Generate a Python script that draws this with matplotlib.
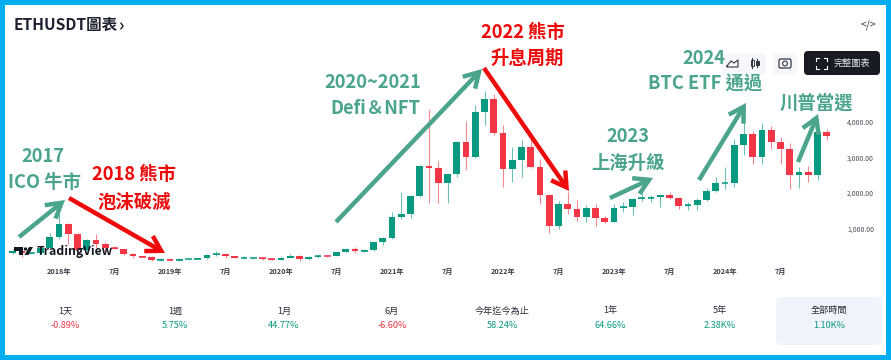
#!/usr/bin/env python3
import matplotlib
matplotlib.use('Agg')
import matplotlib.pyplot as plt
from matplotlib.patches import FancyArrowPatch, FancyBboxPatch, Circle, Polygon, Rectangle

plt.rcParams['font.family'] = ['Noto Sans CJK TC', 'DejaVu Sans']

# monthly candles, Aug 2017 .. Dec 2024
opens = [301, 383, 304, 305, 446, 756, 1118, 855, 396, 670, 578, 455, 433, 283, 233, 197, 113, 133,
         106, 135, 141, 161, 268, 290, 218, 172, 180, 182, 151, 129, 179, 217, 133, 206, 231, 225,
         346, 434, 360, 386, 616, 737, 1312, 1419, 1919, 2772, 2706, 2275, 2530, 3430, 3000, 4288,
         4631, 3676, 2686, 2920, 3281, 2726, 1942, 1067, 1678, 1553, 1328, 1572, 1295, 1196, 1586,
         1605, 1822, 1870, 1874, 1934, 1856, 1645, 1670, 1815, 2052, 2282, 2283, 3340, 3647, 3015,
         3760, 3438, 3232, 2513, 2603, 2518, 3700]
highs = [393, 394, 345, 517, 881, 1425, 1161, 878, 708, 840, 620, 515, 435, 301, 237, 233, 166, 160,
         165, 150, 185, 288, 362, 320, 239, 223, 197, 195, 152, 189, 288, 250, 227, 247, 253, 349,
         448, 489, 421, 637, 752, 1476, 2042, 1946, 2799, 4372, 2891, 2551, 3474, 4027, 4460, 4868,
         4778, 3900, 3282, 3480, 3580, 2965, 1972, 1785, 2030, 1790, 1665, 1680, 1352, 1680, 1743,
         1857, 2141, 1930, 1950, 2030, 1880, 1750, 1860, 2138, 2445, 2717, 3522, 4093, 3730, 3977,
         3887, 3562, 3400, 2728, 2770, 3740, 3800]
lows = [278, 197, 275, 285, 417, 717, 560, 366, 360, 462, 352, 420, 250, 167, 190, 101, 81, 100,
        102, 125, 136, 141, 230, 188, 164, 153, 153, 131, 116, 126, 209, 86, 125, 177, 216, 220,
        334, 309, 334, 372, 532, 714, 1274, 1291, 1891, 1730, 1707, 1706, 2441, 2651, 2971, 3900,
        3643, 2159, 2300, 2445, 2710, 1704, 880, 1000, 1423, 1220, 1190, 1073, 1150, 1190, 1460,
        1368, 1785, 1740, 1620, 1820, 1550, 1531, 1520, 1778, 2040, 2100, 2170, 3056, 2810, 2817,
        3240, 2810, 2110, 2150, 2300, 2357, 3500]
closes = [383, 304, 305, 446, 756, 1118, 855, 396, 670, 578, 455, 433, 283, 233, 197, 113, 133, 106,
          135, 141, 161, 268, 290, 218, 172, 180, 182, 151, 129, 179, 217, 133, 206, 231, 225, 346,
          434, 360, 386, 616, 737, 1312, 1419, 1919, 2772, 2706, 2275, 2530, 3430, 3000, 4288, 4631,
          3676, 2686, 2920, 3281, 2726, 1942, 1067, 1678, 1553, 1328, 1572, 1295, 1196, 1586, 1605,
          1822, 1870, 1874, 1934, 1856, 1645, 1670, 1815, 2052, 2282, 2283, 3340, 3647, 3015, 3760,
          3438, 3232, 2513, 2603, 2518, 3700, 3610]

x_tick_pos = [5, 11, 17, 23, 29, 35, 41, 47, 53, 59, 65, 71, 77, 83]
x_tick_labels = ['2018年', '7月', '2019年', '7月', '2020年', '7月', '2021年', '7月',
                 '2022年', '7月', '2023年', '7月', '2024年', '7月']
y_ticks = [1000, 2000, 3000, 4000]
y_tick_labels = ['1,000.00', '2,000.00', '3,000.00', '4,000.00']

periods = ['1天', '1週', '1月', '6月', '今年迄今為止', '1年', '5年', '全部時間']
returns = ['-0.89%', '5.75%', '44.77%', '-6.60%', '58.24%', '64.66%', '2.38K%', '1.10K%']
period_x = [65, 175, 284, 392, 502, 610, 720, 829]

GREEN = '#089981'
RED = '#F23645'
TEAL = '#4BA58D'
ARROW_RED = '#EE0A0A'
BLUE = '#00AEEF'
W, H = 891, 360

fig = plt.figure(figsize=(W / 100, H / 100), dpi=100, facecolor='white')

# chart axes, placed so the months and prices land on the reference pixels
left, right, top, bottom = 6, 843, 40, 264.2
ax = fig.add_axes([left / W, 1 - bottom / H, (right - left) / W, (bottom - top) / H])
ax.set_xlim((left - 12.75) / 9.25, (right - 12.75) / 9.25)
ax.set_ylim(0, (bottom - top) * 28.09)
for s in ax.spines.values():
    s.set_visible(False)
ax.patch.set_alpha(0)

xs = list(range(len(opens)))
colors = [GREEN if c >= o else RED for o, c in zip(opens, closes)]
ax.vlines(xs, lows, highs, colors=colors, lw=0.8, alpha=0.6, zorder=2)
ax.bar(xs, [abs(c - o) for o, c in zip(opens, closes)], bottom=[min(o, c) for o, c in zip(opens, closes)],
       width=0.72, color=colors, linewidth=0, zorder=3)
# flat months still show as a thin dash
mids = [(o + c) / 2 for o, c in zip(opens, closes)]
ax.hlines(mids, [x - 0.36 for x in xs], [x + 0.36 for x in xs], colors=colors, lw=1.1, zorder=3)

ax.set_xticks(x_tick_pos)
ax.set_xticklabels(x_tick_labels, fontsize=5.2, fontweight='bold', color='#3A3E4A')
ax.yaxis.tick_right()
ax.set_yticks(y_ticks)
ax.set_yticklabels(y_tick_labels, fontsize=5, color='#4A4E5A', ha='left')
ax.tick_params(axis='both', length=0)
ax.tick_params(axis='x', pad=3)
ax.tick_params(axis='y', pad=3)

# overlay in pixel coordinates for the page furniture and hand-drawn notes
ov = fig.add_axes([0, 0, 1, 1])
ov.set_xlim(0, W)
ov.set_ylim(H, 0)
ov.axis('off')
ov.patch.set_alpha(0)

ov.text(14, 25, 'ETHUSDT圖表', fontsize=11.2, fontweight='bold', color='#1E2230', va='center')
ov.text(119, 26, '›', fontsize=12, fontweight='bold', color='#1E2230', va='center')
ov.text(868, 25, '</>', fontsize=7.5, color='#333744', ha='center', va='center')

# toolbar
ov.add_patch(FancyBboxPatch((722, 53), 44, 22, boxstyle='round,pad=0,rounding_size=3', fc='#F6F7FB', ec='none'))
ov.add_patch(FancyBboxPatch((773, 53), 24, 22, boxstyle='round,pad=0,rounding_size=3', fc='#F6F7FB', ec='none'))
ov.plot([727, 731, 734, 738, 738, 727, 727], [66, 61, 63, 60, 67, 67, 66], color='#333744', lw=0.8)
ov.plot([752, 752], [58, 68], color='#333744', lw=0.8)
ov.plot([757, 757], [59, 67], color='#333744', lw=0.8)
ov.add_patch(Rectangle((751, 60), 2.5, 6, fc='white', ec='#333744', lw=0.7))
ov.add_patch(Rectangle((756, 61), 2.5, 4, fc='#333744', ec='#333744', lw=0.7))
ov.add_patch(FancyBboxPatch((779, 59), 12, 9, boxstyle='round,pad=0,rounding_size=1.5', fc='none', ec='#333744', lw=0.9))
ov.add_patch(Circle((785, 63.5), 2.4, fc='none', ec='#333744', lw=0.8))
ov.add_patch(FancyBboxPatch((804, 51), 76, 24, boxstyle='round,pad=0,rounding_size=4', fc='#181A24', ec='none'))
for cx, cy, dx, dy in [(816, 58, 1, 1), (827, 58, -1, 1), (816, 69, 1, -1), (827, 69, -1, -1)]:
    ov.plot([cx, cx, cx + 3 * dx], [cy + 3 * dy, cy, cy], color='white', lw=0.8)
ov.text(852, 63, '完整圖表', fontsize=6.6, color='#E8E9EE', ha='center', va='center')

# TradingView mark
ov.add_patch(Polygon([(14, 247), (23, 247), (23, 255), (19, 255), (19, 250.5), (14, 250.5)], fc='#131722', ec='none'))
ov.add_patch(Circle((25.5, 249), 1.7, fc='#131722', ec='none'))
ov.add_patch(Polygon([(28.5, 255), (24.5, 255), (29, 247), (33, 247)], fc='#131722', ec='none'))
ov.text(37, 251, 'TradingView', fontsize=8.8, fontweight='bold', color='#131722', va='center')


def arrow(x0, y0, x1, y1, color):
    ov.add_patch(FancyArrowPatch((x0, y0), (x1, y1), arrowstyle='->,head_length=1.05,head_width=0.62',
                                 mutation_scale=10, lw=3.2, color=color, shrinkA=0, shrinkB=0,
                                 capstyle='butt', joinstyle='miter', zorder=6))


arrow(19, 237, 65, 200, TEAL)
arrow(69, 198, 165, 253, ARROW_RED)
arrow(336, 222, 482, 69, TEAL)
arrow(484, 68, 569, 191, ARROW_RED)
arrow(610, 198, 653, 178, TEAL)
arrow(699, 180, 746, 103, TEAL)
arrow(798, 162, 818, 114, TEAL)


def note(x, y, s, color):
    ov.text(x, y + 1, s, fontsize=13.2, fontweight='bold', color=color, ha='center', va='center', zorder=7)


note(43, 155, '2017', TEAL)
note(45, 181, 'ICO 牛市', TEAL)
note(134, 174, '2018 熊市', ARROW_RED)
note(134, 201, '泡沫破滅', ARROW_RED)
note(523, 31, '2022 熊市', ARROW_RED)
note(527, 57, '升息周期', ARROW_RED)
note(373, 81, '2020~2021', TEAL)
note(375, 107, 'Defi＆NFT', TEAL)
note(628, 135, '2023', TEAL)
note(628, 162, '上海升級', TEAL)
note(704, 58, '2024', TEAL)
note(705, 83, 'BTC ETF 通過', TEAL)
note(816, 102, '川普當選', TEAL)

# period performance row
ov.add_patch(FancyBboxPatch((776, 297), 105, 48, boxstyle='round,pad=0,rounding_size=5', fc='#F0F3FA', ec='none'))
for x, p, r in zip(period_x, periods, returns):
    ov.text(x, 311, p, fontsize=6.6, color='#2A2E39', ha='center', va='center')
    ov.text(x, 325, r, fontsize=6.6, color=RED if r.startswith('-') else GREEN, ha='center', va='center')

# blue picture frame
for rect in [(0, 0, W, 4.5), (0, 355, W, 5), (0, 0, 4.5, H), (885.5, 0, 5.5, H)]:
    ov.add_patch(Rectangle(rect[:2], rect[2], rect[3], fc=BLUE, ec='none', zorder=8))

fig.savefig('out.png', dpi=100)
